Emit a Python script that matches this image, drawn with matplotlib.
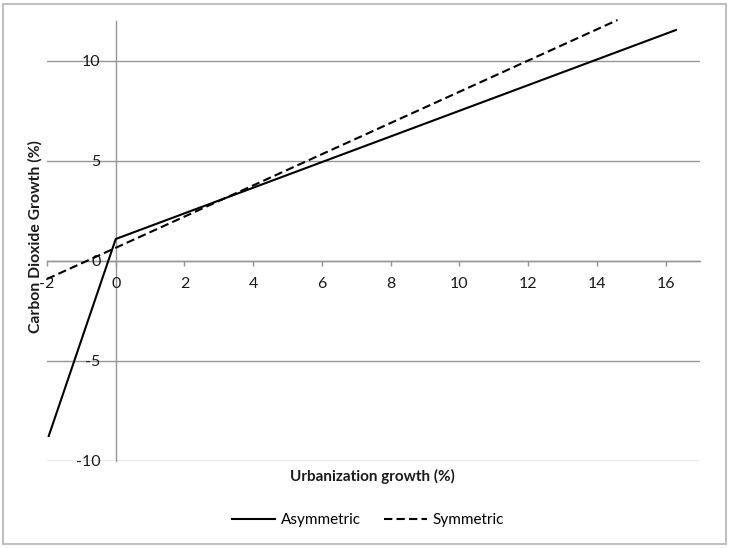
import matplotlib
matplotlib.use('Agg')
import matplotlib.pyplot as plt
from matplotlib.patches import Rectangle

plt.rcParams['font.family'] = ['Lato', 'DejaVu Sans']

# Data
asym_x = [-1.95, 0.0, 16.3]
asym_y = [-8.75, 1.1, 11.55]
sym_x = [-2.0, 14.6]
sym_y = [-0.9, 12.05]

x_ticks = [-2, 0, 2, 4, 6, 8, 10, 12, 14, 16]
y_ticks = [-10, -5, 0, 5, 10]

W, H = 729, 548
fig = plt.figure(figsize=(W / 100, H / 100), dpi=100)
ax = fig.add_axes([47 / W, (H - 461) / H, (700 - 47) / W, (461 - 21) / H])

grid_col = '#959595'

ax.plot(asym_x, asym_y, color='black', lw=1.5, label='Asymmetric', clip_on=False, zorder=3)
ax.plot(sym_x, sym_y, color='black', lw=1.5, dashes=(4, 2), label='Symmetric', clip_on=False, zorder=3)

ax.set_xlim(-2, 17)
ax.set_ylim(-10, 12)

# Excel style: axes cross at zero
for s in ['top', 'right']:
    ax.spines[s].set_visible(False)
ax.spines['bottom'].set_position(('data', 0))
ax.spines['left'].set_position(('data', 0))
ax.spines['bottom'].set_color(grid_col)
ax.spines['left'].set_color(grid_col)
ax.spines['bottom'].set_linewidth(1)
ax.spines['left'].set_linewidth(1)

ax.set_xticks(x_ticks)
ax.set_yticks(y_ticks)
ax.set_xticklabels([str(v) for v in x_ticks])
ax.set_yticklabels([str(v) for v in y_ticks])
ax.tick_params(axis='x', direction='out', length=3.5, width=1, color=grid_col,
               labelsize=11.5, pad=8, labelcolor='#1a1a1a')
ax.tick_params(axis='y', length=0, labelsize=11.5, pad=11, labelcolor='#1a1a1a')
for lbl in ax.get_yticklabels():
    lbl.set_zorder(1)

ax.yaxis.grid(True, color=grid_col, lw=1)
ax.set_axisbelow(False)

fig.text(372 / W, 1 - 476 / H, 'Urbanization growth (%)', ha='center', va='center',
         fontsize=11, fontweight='bold', color='#1a1a1a')
fig.text(35 / W, 1 - 237 / H, 'Carbon Dioxide Growth (%)', ha='center', va='center',
         rotation=90, fontsize=11.3, fontweight='bold', color='#1a1a1a')

fig.legend(loc='center', bbox_to_anchor=(368 / W, 1 - 520 / H), ncol=2, frameon=False,
           fontsize=11, handlelength=2.8, columnspacing=1.5, handletextpad=0.4)

fig.patches.append(Rectangle((3 / W, 4 / H), (726 - 3) / W, (544 - 4) / H,
                             transform=fig.transFigure, fill=False,
                             edgecolor='#bfbfbf', lw=1.5))

fig.savefig('out.png', dpi=100)
